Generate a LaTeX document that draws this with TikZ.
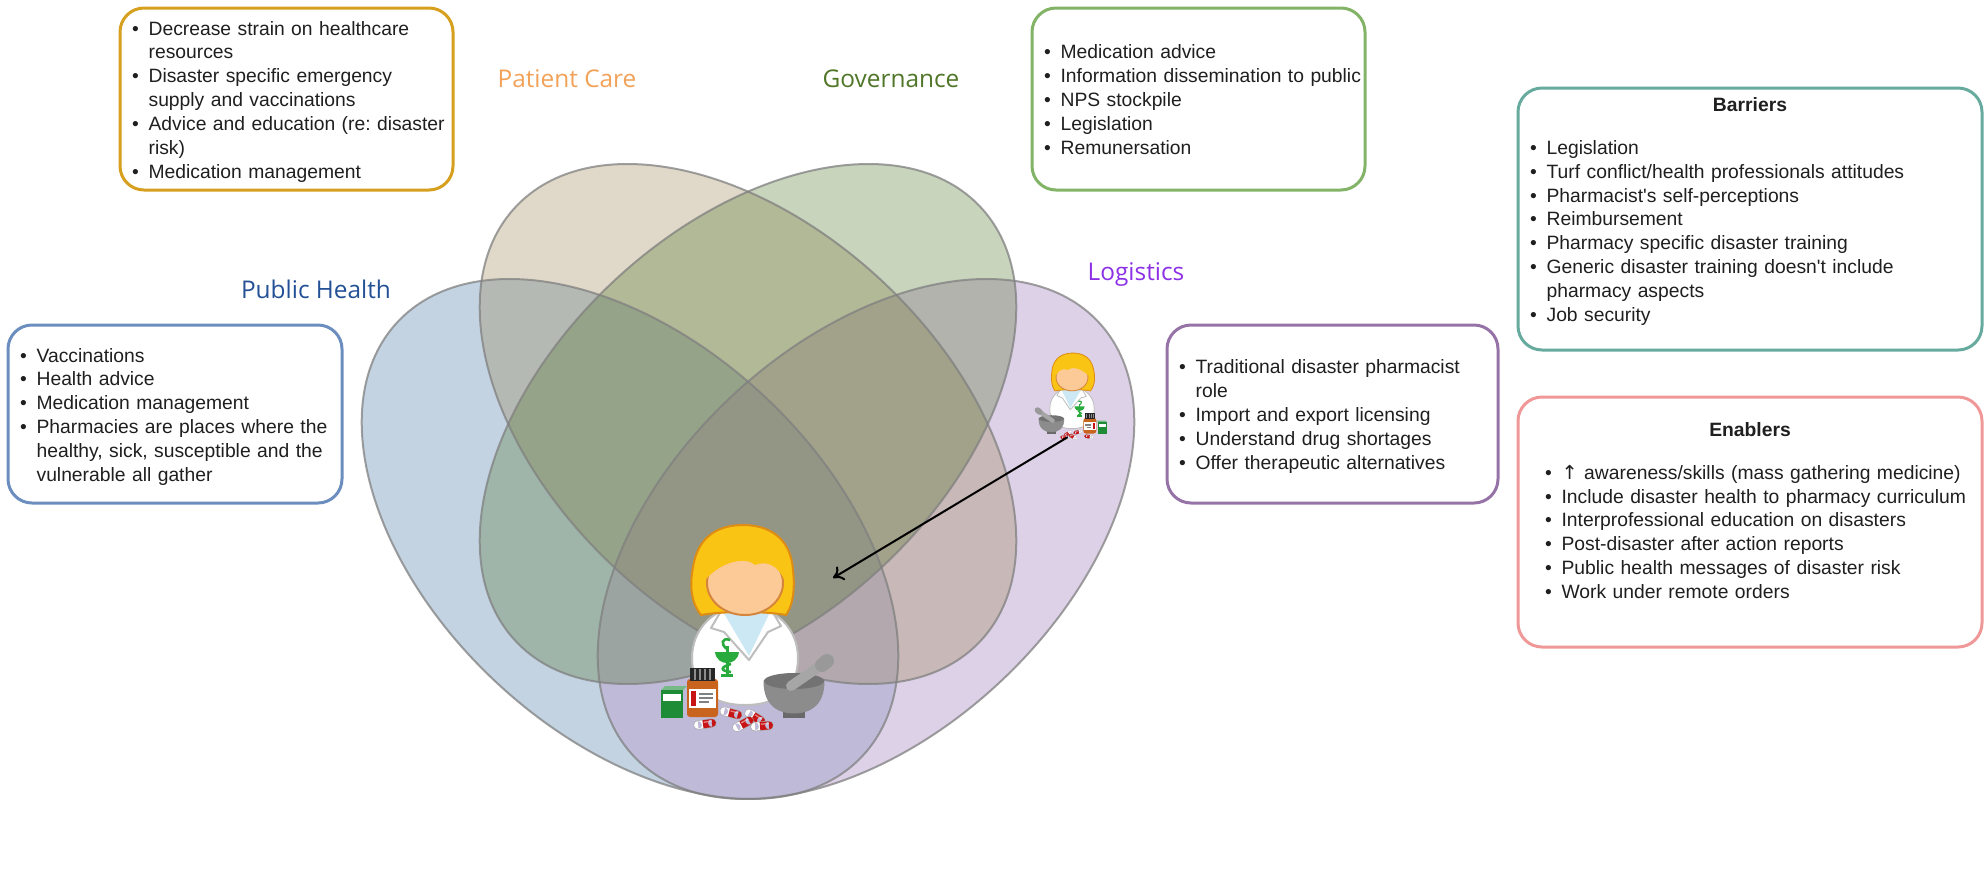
\documentclass[tikz,border=0pt]{standalone}
\usepackage{fontspec}
\setmainfont{Liberation Sans}
\newfontfamily\labelfont{Open Sans}
\newfontfamily\symfont{DejaVu Sans}
\usetikzlibrary{arrows.meta}
\frenchspacing
% bulleted lines: bullet column, then one printed line per row;
% the optional argument lowers the list without changing its size
\newlength\bulind
\setlength\bulind{8.3pt}
\newcommand\bulletlist[2][0pt]{\raisebox{-#1}[\height][\depth]{\begin{tabular}[t]{@{}p{\bulind}@{}l@{}}#2\end{tabular}}}

% set fills (drawn translucent so overlaps darken)
\definecolor{phfill}{RGB}{135,167,197}
\definecolor{pcfill}{RGB}{152,128,75}
\definecolor{govfill}{RGB}{75,112,38}
\definecolor{logfill}{RGB}{187,163,207}
% box frames
\definecolor{pcedge}{RGB}{214,160,30}
\definecolor{govedge}{RGB}{130,179,102}
\definecolor{phedge}{RGB}{108,142,191}
\definecolor{logedge}{RGB}{150,115,166}
\definecolor{baredge}{RGB}{103,171,159}
\definecolor{enaedge}{RGB}{240,152,152}
% set labels
\definecolor{pclabel}{RGB}{242,162,88}
\definecolor{govlabel}{RGB}{80,118,40}
\definecolor{phlabel}{RGB}{36,80,150}
\definecolor{loglabel}{RGB}{140,48,230}
% pharmacist figure
\definecolor{hairyellow}{RGB}{250,196,20}
\definecolor{hairedge}{RGB}{222,140,20}
\definecolor{skin}{RGB}{251,202,150}
\definecolor{skinedge}{RGB}{214,134,60}
\definecolor{shirtblue}{RGB}{205,232,245}
\definecolor{coatedge}{RGB}{190,190,190}
\definecolor{symgreen}{RGB}{40,170,60}
\definecolor{boxgreen}{RGB}{30,140,55}
\definecolor{bottlebrown}{RGB}{200,100,30}
\definecolor{pillred}{RGB}{200,20,20}
\definecolor{mortargray}{RGB}{140,140,140}

\tikzset{
  setfill/.style 2 args={fill=#1, fill opacity=#2},
  setedge/.style={draw=black!50, draw opacity=0.75, line width=1pt},
  setlabel/.style={font=\labelfont\fontsize{12.2pt}{14pt}\selectfont, inner sep=0pt},
  infobox/.style={draw=#1, line width=1.5pt, rounded corners=12pt, fill=white,
    inner xsep=6pt, inner ysep=3pt, align=left, text=black!88,
    font=\fontsize{9.65pt}{11.95pt}\selectfont},
  linkarrow/.style={-{To[length=5pt,width=8pt]}, line width=1pt, black},
  pharmacist/.pic={
    % white coat
    \path[fill=white, draw=coatedge, line width=#1]
      (0,123) .. controls (-38,123) and (-53,102) .. (-53,76)
      .. controls (-53,46) and (-30,24) .. (0,24)
      .. controls (30,24) and (53,46) .. (53,76)
      .. controls (53,102) and (38,123) .. (0,123) -- cycle;
    % shirt and lapels
    \path[fill=shirtblue] (-23,28) -- (26,28) -- (4,74) -- cycle;
    \path[draw=coatedge, line width=#1, line join=round]
      (-24,29) -- (-34,46) -- (-21,50) -- (4,78) -- (23,50) -- (36,44) -- (27,29);
    % hair
    \path[fill=hairyellow, draw=hairedge, line width=#1]
      (-44,33) .. controls (-56,18) and (-55,-2) .. (-51,-20)
      .. controls (-45,-47) and (-25,-57) .. (-2,-57)
      .. controls (22,-57) and (42,-46) .. (47,-20)
      .. controls (50,0) and (50,20) .. (41,33)
      .. controls (20,29) and (-22,29) .. (-44,33) -- cycle;
    % face
    \path[fill=skin, draw=skinedge, line width=#1] (0,1) ellipse [x radius=38, y radius=32];
    % fringe
    \path[fill=hairyellow]
      (-39,-3) .. controls (-42,-36) and (-22,-51) .. (0,-51)
      .. controls (24,-51) and (42,-36) .. (39,-3)
      .. controls (33,-16) and (22,-22) .. (10,-17)
      .. controls (2,-25) and (-22,-22) .. (-39,-3) -- cycle;
    % bowl of Hygieia on the coat
    \path[draw=symgreen, line width=1.5*#1] (-18,64) -- (-18,92);
    \path[fill=symgreen] (-30,70) -- (-6,70) .. controls (-7,78) and (-13,81) .. (-18,81)
      .. controls (-23,81) and (-29,78) .. (-30,70) -- cycle;
    \path[draw=symgreen, line width=1.3*#1] (-18,67) .. controls (-25,62) and (-23,55) .. (-15,58);
    \path[draw=symgreen, line width=1.3*#1] (-14,82) .. controls (-25,85) and (-25,89) .. (-14,90);
    \path[draw=symgreen, line width=1.5*#1] (-24,93) -- (-12,93);
    % medicine box
    \path[fill=boxgreen!60!white] (-84,108) -- (-62,108) -- (-58,104) -- (-80,104) -- cycle;
    \path[fill=boxgreen] (-84,108) rectangle (-62,136);
    \path[fill=white] (-82,112) rectangle (-64,119);
    % pill bottle
    \path[fill=bottlebrown, rounded corners=1.5pt] (-58,97) rectangle (-27,135);
    \path[fill=black!85] (-55,86) rectangle (-30,99);
    \path[draw=black!45, line width=0.6*#1] (-50,87) -- (-50,98) (-45,87) -- (-45,98) (-40,87) -- (-40,98) (-35,87) -- (-35,98);
    \path[fill=white] (-56,107) rectangle (-29,126);
    \path[fill=pillred] (-54,109) rectangle (-49,124);
    \path[draw=black!50, line width=0.8*#1] (-46,112) -- (-32,112) (-46,116) -- (-32,116) (-46,120) -- (-36,120);
    % capsules
    \foreach \px/\py/\pa in {-40/142/8, -14/131/-15, 10/135/-32, -2/142/28, 17/144/5} {
      \begin{scope}[shift={(\px,\py)}, rotate=\pa]
        \fill[black!35] (-7,0) circle [radius=4.6] (7,0) circle [radius=4.6] (-7,-4.6) rectangle (7,4.6);
        \fill[white] (-7,0) circle [radius=4] (-7,-4) rectangle (-2,4);
        \fill[pillred] (7,0) circle [radius=4] (-2,-4) rectangle (7,4);
        \fill[white, fill opacity=0.45] (-1,-2.6) rectangle (7,-1.2);
      \end{scope}
    }
    % mortar and pestle
    \path[fill=mortargray!75!black] (38,128) rectangle (60,136);
    \path[fill=mortargray, draw=black!45, line width=0.5*#1]
      (19,99) .. controls (19,124) and (34,131) .. (49,131)
      .. controls (64,131) and (79,124) .. (79,99) -- cycle;
    \path[fill=black!55] (49,99) ellipse [x radius=30, y radius=8];
    \path[draw=black!35, line width=5*#1, line cap=round] (46,104) -- (78,82);
    \path[draw=black!40, line width=7*#1, line cap=round] (77,83) -- (82,79);
    % foot of the figure, where a connector may start
    \coordinate (-base) at (10,143);
  }
}

\begin{document}
\begin{tikzpicture}[x=0.5pt, y=-0.5pt]
\useasboundingbox (0,0) rectangle (1988,885);

% four-set Venn diagram: fills first, outlines on top
\path[setfill={phfill}{0.5},  rotate around={-43:(630,539)}] (630,539) ellipse [x radius=318, y radius=196];
\path[setfill={logfill}{0.5}, rotate around={43:(866,539)}]  (866,539) ellipse [x radius=318, y radius=196];
\path[setfill={pcfill}{0.3},  rotate around={-43:(748,424)}] (748,424) ellipse [x radius=318, y radius=196];
\path[setfill={govfill}{0.3}, rotate around={43:(748,424)}]  (748,424) ellipse [x radius=318, y radius=196];
\path[setedge, rotate around={-43:(630,539)}] (630,539) ellipse [x radius=318, y radius=196];
\path[setedge, rotate around={-43:(748,424)}] (748,424) ellipse [x radius=318, y radius=196];
\path[setedge, rotate around={43:(748,424)}]  (748,424) ellipse [x radius=318, y radius=196];
\path[setedge, rotate around={43:(866,539)}]  (866,539) ellipse [x radius=318, y radius=196];

% set names
\node[setlabel, text=pclabel]  (lblpc)  at (567,79)  {Patient Care};
\node[setlabel, text=govlabel] (lblgov) at (891,79)  {Governance};
\node[setlabel, text=phlabel]  (lblph)  at (316,289) {Public Health};
\node[setlabel, text=loglabel] (lbllog) at (1136,274) {Logistics};

% pharmacists
\pic (bigph) at (745,582) {pharmacist=1pt};
\pic[xscale=-0.42, yscale=0.42] (smallph) at (1072,377) {pharmacist=0.42pt};
\coordinate (core) at (833,578);
\draw[linkarrow] (smallph-base) -- (core);

% role boxes
\node[infobox=pcedge, minimum width=166.5pt, minimum height=91pt, text width=154.5pt] (pcbox) at (286.5,99) {%
\bulletlist[1.5pt]{%
\textbullet & Decrease strain on healthcare\\
            & resources\\
\textbullet & Disaster specific emergency\\
            & supply and vaccinations\\
\textbullet & Advice and education (re: disaster\\
            & risk)\\
\textbullet & Medication management}};

\node[infobox=govedge, minimum width=166.5pt, minimum height=91pt, text width=154.5pt] (govbox) at (1198.5,99) {%
\bulletlist[1.5pt]{%
\textbullet & Medication advice\\
\textbullet & Information dissemination to public\\
\textbullet & NPS stockpile\\
\textbullet & Legislation\\
\textbullet & Remunersation}};

\node[infobox=phedge, minimum width=167pt, minimum height=89pt, text width=155pt] (phbox) at (175,414) {%
\bulletlist[1.5pt]{%
\textbullet & Vaccinations\\
\textbullet & Health advice\\
\textbullet & Medication management\\
\textbullet & Pharmacies are places where the\\
            & healthy, sick, susceptible and the\\
            & vulnerable all gather}};

\node[infobox=logedge, minimum width=165.5pt, minimum height=89pt, text width=153.5pt] (logbox) at (1332.5,414) {%
\bulletlist[1.5pt]{%
\textbullet & Traditional disaster pharmacist\\
            & role\\
\textbullet & Import and export licensing\\
\textbullet & Understand drug shortages\\
\textbullet & Offer therapeutic alternatives}};

% barriers and enablers
\node[infobox=baredge, minimum width=232pt, minimum height=131pt, text width=220pt] (barbox) at (1750,219) {%
{\centering\textbf{Barriers}\par}\vspace{9.5pt}
\bulletlist{%
\textbullet & Legislation\\
\textbullet & Turf conflict/health professionals attitudes\\
\textbullet & Pharmacist\textquotesingle s self-perceptions\\
\textbullet & Reimbursement\\
\textbullet & Pharmacy specific disaster training\\
\textbullet & Generic disaster training doesn\textquotesingle t include\\
            & pharmacy aspects\\
\textbullet & Job security}\par\vspace{6pt}};

\node[infobox=enaedge, minimum width=232pt, minimum height=125pt, text width=220pt] (enabox) at (1750,522) {%
{\centering\textbf{Enablers}\par}\vspace{9.5pt}
\hspace*{7.5pt}\bulletlist{%
\textbullet & {\symfont ↑} awareness/skills (mass gathering medicine)\\
\textbullet & Include disaster health to pharmacy curriculum\\
\textbullet & Interprofessional education on disasters\\
\textbullet & Post-disaster after action reports\\
\textbullet & Public health messages of disaster risk\\
\textbullet & Work under remote orders}\par\vspace{8pt}};
\end{tikzpicture}
\end{document}
